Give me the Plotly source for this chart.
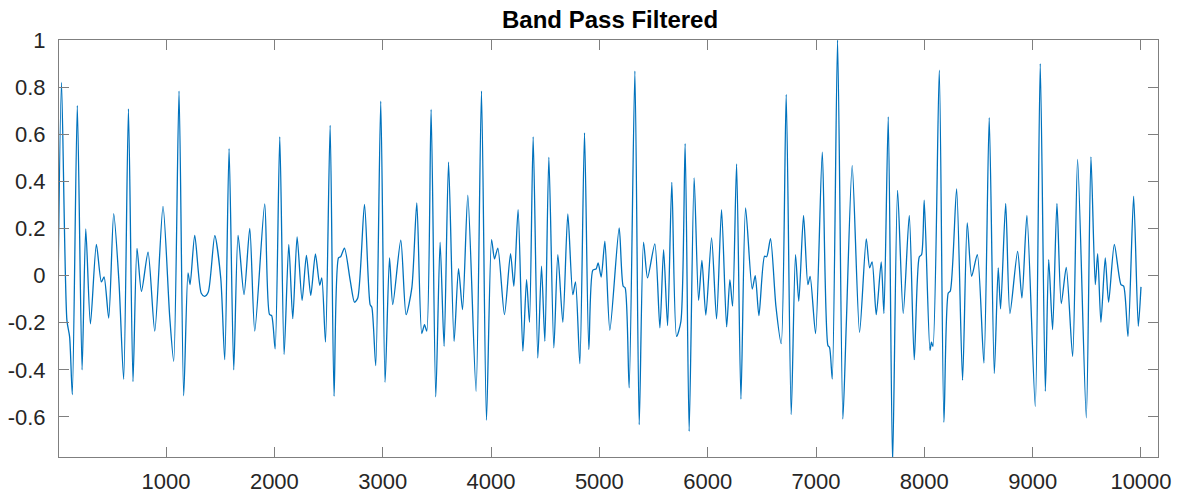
import plotly.graph_objects as go

# Sample index / amplitude of the filtered signal (extrema and shoulders)
sample_idx = [
    1, 35, 85, 110, 135, 181, 225, 259, 302, 357, 403, 428, 471, 517, 566, 609, 653, 695, 732, 773,
    834, 896, 972, 1034, 1071, 1120, 1163, 1203, 1222, 1265, 1325, 1357, 1390, 1450, 1505, 1542, 1582, 1625, 1665, 1720,
    1773, 1819, 1911, 1955, 1975, 2007, 2050, 2090, 2133, 2170, 2210, 2256, 2296, 2336, 2379, 2419, 2438, 2472, 2515, 2551,
    2592, 2612, 2647, 2700, 2740, 2770, 2832, 2884, 2900, 2936, 2982, 3022, 3063, 3093, 3167, 3216, 3269, 3315, 3361, 3386,
    3407, 3447, 3490, 3530, 3567, 3608, 3659, 3700, 3737, 3786, 3862, 3912, 3958, 4005, 4032, 4063, 4124, 4180, 4211, 4250,
    4294, 4328, 4355, 4389, 4432, 4466, 4497, 4534, 4580, 4617, 4663, 4709, 4755, 4780, 4820, 4863, 4903, 4940, 4970, 4989,
    5017, 5051, 5097, 5183, 5220, 5238, 5275, 5328, 5368, 5408, 5445, 5512, 5559, 5593, 5630, 5669, 5713, 5753, 5792, 5829,
    5875, 5916, 5947, 5983, 6036, 6082, 6128, 6175, 6205, 6230, 6267, 6307, 6350, 6411, 6439, 6473, 6525, 6545, 6580, 6630,
    6679, 6725, 6771, 6811, 6841, 6885, 6925, 6946, 6996, 7058, 7110, 7125, 7150, 7199, 7248, 7279, 7334, 7402, 7464, 7495,
    7518, 7556, 7602, 7627, 7667, 7707, 7753, 7805, 7861, 7907, 7953, 7975, 7999, 8052, 8066, 8080, 8138, 8181, 8221, 8240,
    8298, 8353, 8396, 8437, 8489, 8550, 8599, 8646, 8682, 8704, 8751, 8790, 8861, 8901, 8947, 9024, 9070, 9117, 9148, 9184,
    9224, 9264, 9310, 9369, 9415, 9495, 9538, 9578, 9600, 9630, 9670, 9701, 9754, 9815, 9840, 9880, 9932, 9975, 10000,
]
amplitude = [
    -0.15, 0.82, -0.19, -0.26, -0.505, 0.722, -0.40, 0.198, -0.205, 0.132, -0.027, -0.006, -0.18, 0.263, -0.03, -0.44, 0.708, -0.45, 0.115, -0.067,
    0.099, -0.236, 0.294, -0.175, -0.364, 0.783, -0.51, 0.011, -0.038, 0.171, -0.075, -0.088, -0.07, 0.17, -0.01, -0.357, 0.539, -0.40, 0.171, -0.081,
    0.2, -0.236, 0.304, -0.165, -0.17, -0.311, 0.589, -0.335, 0.132, -0.183, 0.164, -0.105, 0.086, -0.084, 0.092, -0.041, -0.01, -0.282, 0.638, -0.512,
    0.075, 0.08, 0.117, -0.02, -0.113, -0.095, 0.302, -0.123, -0.135, -0.382, 0.74, -0.453, 0.075, -0.123, 0.15, -0.166, -0.052, 0.309, -0.246, -0.208,
    -0.236, 0.705, -0.515, 0.142, -0.30, 0.481, -0.279, 0.03, -0.144, 0.341, -0.491, 0.783, -0.614, 0.153, 0.071, 0.117, -0.166, 0.093, -0.045, 0.28,
    -0.321, -0.017, -0.198, 0.589, -0.35, 0.04, -0.279, 0.502, -0.307, 0.089, -0.198, 0.262, -0.081, -0.027, -0.374, 0.606, -0.314, 0.023, 0.028, 0.054,
    -0.006, 0.146, -0.232, 0.202, -0.045, -0.052, -0.477, 0.868, -0.633, 0.142, -0.01, 0.135, -0.222, 0.11, -0.212, 0.396, -0.258, -0.194, 0.56, -0.661,
    0.415, -0.105, 0.064, -0.168, 0.16, -0.184, 0.28, -0.218, -0.017, -0.13, 0.474, -0.524, 0.287, -0.057, 0.0, -0.17, 0.082, 0.08, 0.157, -0.13,
    -0.289, 0.769, -0.59, 0.089, -0.109, 0.255, -0.038, -0.003, -0.246, 0.524, -0.297, -0.305, -0.439, 1.0, -0.609, -0.215, 0.467, -0.241, 0.156, 0.033,
    0.058, -0.166, 0.058, -0.161, 0.674, -0.80, 0.362, -0.161, 0.255, -0.357, 0.079, 0.09, 0.32, -0.317, -0.283, -0.30, 0.872, -0.623, -0.074, -0.065,
    0.368, -0.444, 0.224, -0.003, 0.089, -0.371, 0.67, -0.416, 0.033, -0.141, 0.306, -0.161, 0.103, -0.095, 0.255, -0.555, 0.9, -0.491, 0.068, -0.229,
    0.306, -0.119, 0.035, -0.343, 0.493, -0.604, 0.504, -0.038, 0.093, -0.198, 0.075, -0.113, 0.132, -0.038, -0.045, -0.258, 0.337, -0.215, -0.048,
]

x_tick_vals = [1000, 2000, 3000, 4000, 5000, 6000, 7000, 8000, 9000, 10000]
x_tick_text = ["1000", "2000", "3000", "4000", "5000", "6000", "7000", "8000", "9000", "10000"]
y_tick_vals = [-0.6, -0.4, -0.2, 0, 0.2, 0.4, 0.6, 0.8, 1]
y_tick_text = ["-0.6", "-0.4", "-0.2", "0", "0.2", "0.4", "0.6", "0.8", "1"]

FONT = "Liberation Sans, Arial, Helvetica, sans-serif"
AXIS_COLOR = "#7f7f7f"
TEXT_COLOR = "#262626"

fig = go.Figure()
fig.add_trace(go.Scatter(
    x=sample_idx, y=amplitude, mode="lines",
    line=dict(color="#0072BD", width=1.3, shape="spline", smoothing=0.7),
    hoverinfo="skip", showlegend=False,
))

fig.update_layout(
    width=1180, height=496,
    margin=dict(l=59, r=22, t=40, b=39, pad=0, autoexpand=False),
    paper_bgcolor="white", plot_bgcolor="white",
    font=dict(family=FONT, size=22, color=TEXT_COLOR),
    title=dict(text="<b>Band Pass Filtered</b>", x=0.517, xanchor="center",
               y=0.96, yanchor="middle", font=dict(family=FONT, size=24, color="#000000")),
    showlegend=False,
)
fig.update_xaxes(
    range=[12, 10157], tickvals=x_tick_vals, ticktext=x_tick_text, automargin=False,
    showgrid=False, zeroline=False, showline=True, linecolor=AXIS_COLOR, linewidth=1,
    mirror="allticks", ticks="inside", ticklen=10, tickcolor=AXIS_COLOR, tickwidth=1,
    ticklabelstandoff=5, tickfont=dict(size=22, color=TEXT_COLOR),
)
fig.update_yaxes(
    range=[-0.77, 1.0], tickvals=y_tick_vals, ticktext=y_tick_text, automargin=False,
    showgrid=False, zeroline=False, showline=True, linecolor=AXIS_COLOR, linewidth=1,
    mirror="allticks", ticks="inside", ticklen=10, tickcolor=AXIS_COLOR, tickwidth=1,
    ticklabelstandoff=8, tickfont=dict(size=22, color=TEXT_COLOR),
)

fig.write_html("out.html")
